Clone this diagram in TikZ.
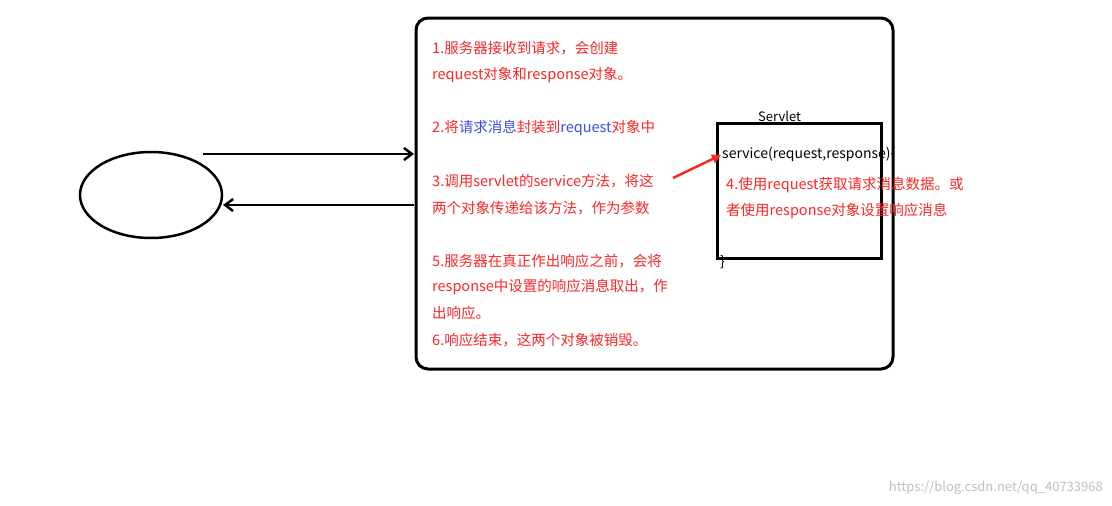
\documentclass[tikz,border=0pt]{standalone}
\usepackage{fontspec}
\setmainfont{Noto Sans CJK SC}
\usetikzlibrary{arrows.meta,shapes.geometric}
\definecolor{rd}{RGB}{250,40,40}
\definecolor{bl}{RGB}{60,80,225}
\tikzset{
 t/.style={anchor=west,inner sep=0pt,text=rd,font=\fontsize{14.5}{16}\selectfont},
 k/.style={anchor=west,inner sep=0pt,text=black,font=\fontsize{14}{16}\selectfont},
 box/.style={draw=black,line width=3pt},
 arr/.style={line width=2.5pt,-{Straight Barb[length=8pt,width=12pt]}}
}
\begin{document}
\begin{tikzpicture}[x=1pt,y=-1pt]
\useasboundingbox[fill=white] (0,0) rectangle (1112,506);
\draw[box,rounded corners=12pt] (416,18) rectangle (893,369);
\draw[box] (717,123) rectangle (881,258);
\node[draw=black,line width=2.5pt,ellipse,minimum width=142pt,minimum height=86pt,inner sep=0pt] (c) at (151,195) {};
\coordinate (a1) at (203,154); \coordinate (a2) at (414,154);
\coordinate (b1) at (414,205); \coordinate (b2) at (223,205);
\draw[arr] (a1) -- (a2);
\draw[arr] (b1) -- (b2);
\coordinate (r1) at (673,178); \coordinate (r2) at (721,155);
\draw[line width=2.5pt,draw=rd,-{Triangle[length=9pt,width=9pt]}] (r1) -- (r2);
\node[t] (l1) at (432,48) {1.服务器接收到请求，会创建};
\node[t] (l2) at (432,75) {request对象和response对象。};
\node[t] (l3) at (432,128) {2.将\textcolor{bl}{请求消息}封装到\textcolor{bl}{request}对象中};
\node[t] (l4) at (432,181) {3.调用servlet的service方法，将这};
\node[t] (l5) at (432,208) {两个对象传递给该方法，作为参数};
\node[t] (l6) at (432,261) {5.服务器在真正作出响应之前，会将};
\node[t] (l7) at (432,287) {response中设置的响应消息取出，作};
\node[t] (l8) at (432,313) {出响应。};
\node[t] (l9) at (432,340) {6.响应结束，这两个对象被销毁。};
\node[k,font=\fontsize{13}{15}\selectfont] (sv) at (758,116) {Servlet};
\node[k] (s1) at (722,154) {service(request,response)\{};
\node[t] (s2) at (726,185) {4.使用request获取请求消息数据。或};
\node[t] (s3) at (726,211) {者使用response对象设置响应消息};
\node[k] (s4) at (720,262) {\}};
\node[anchor=east,inner sep=0pt,text=black!25,font=\fontsize{13}{15}\selectfont] (wm) at (1103,488) {https://blog.csdn.net/qq\_40733968};
\end{tikzpicture}
\end{document}
